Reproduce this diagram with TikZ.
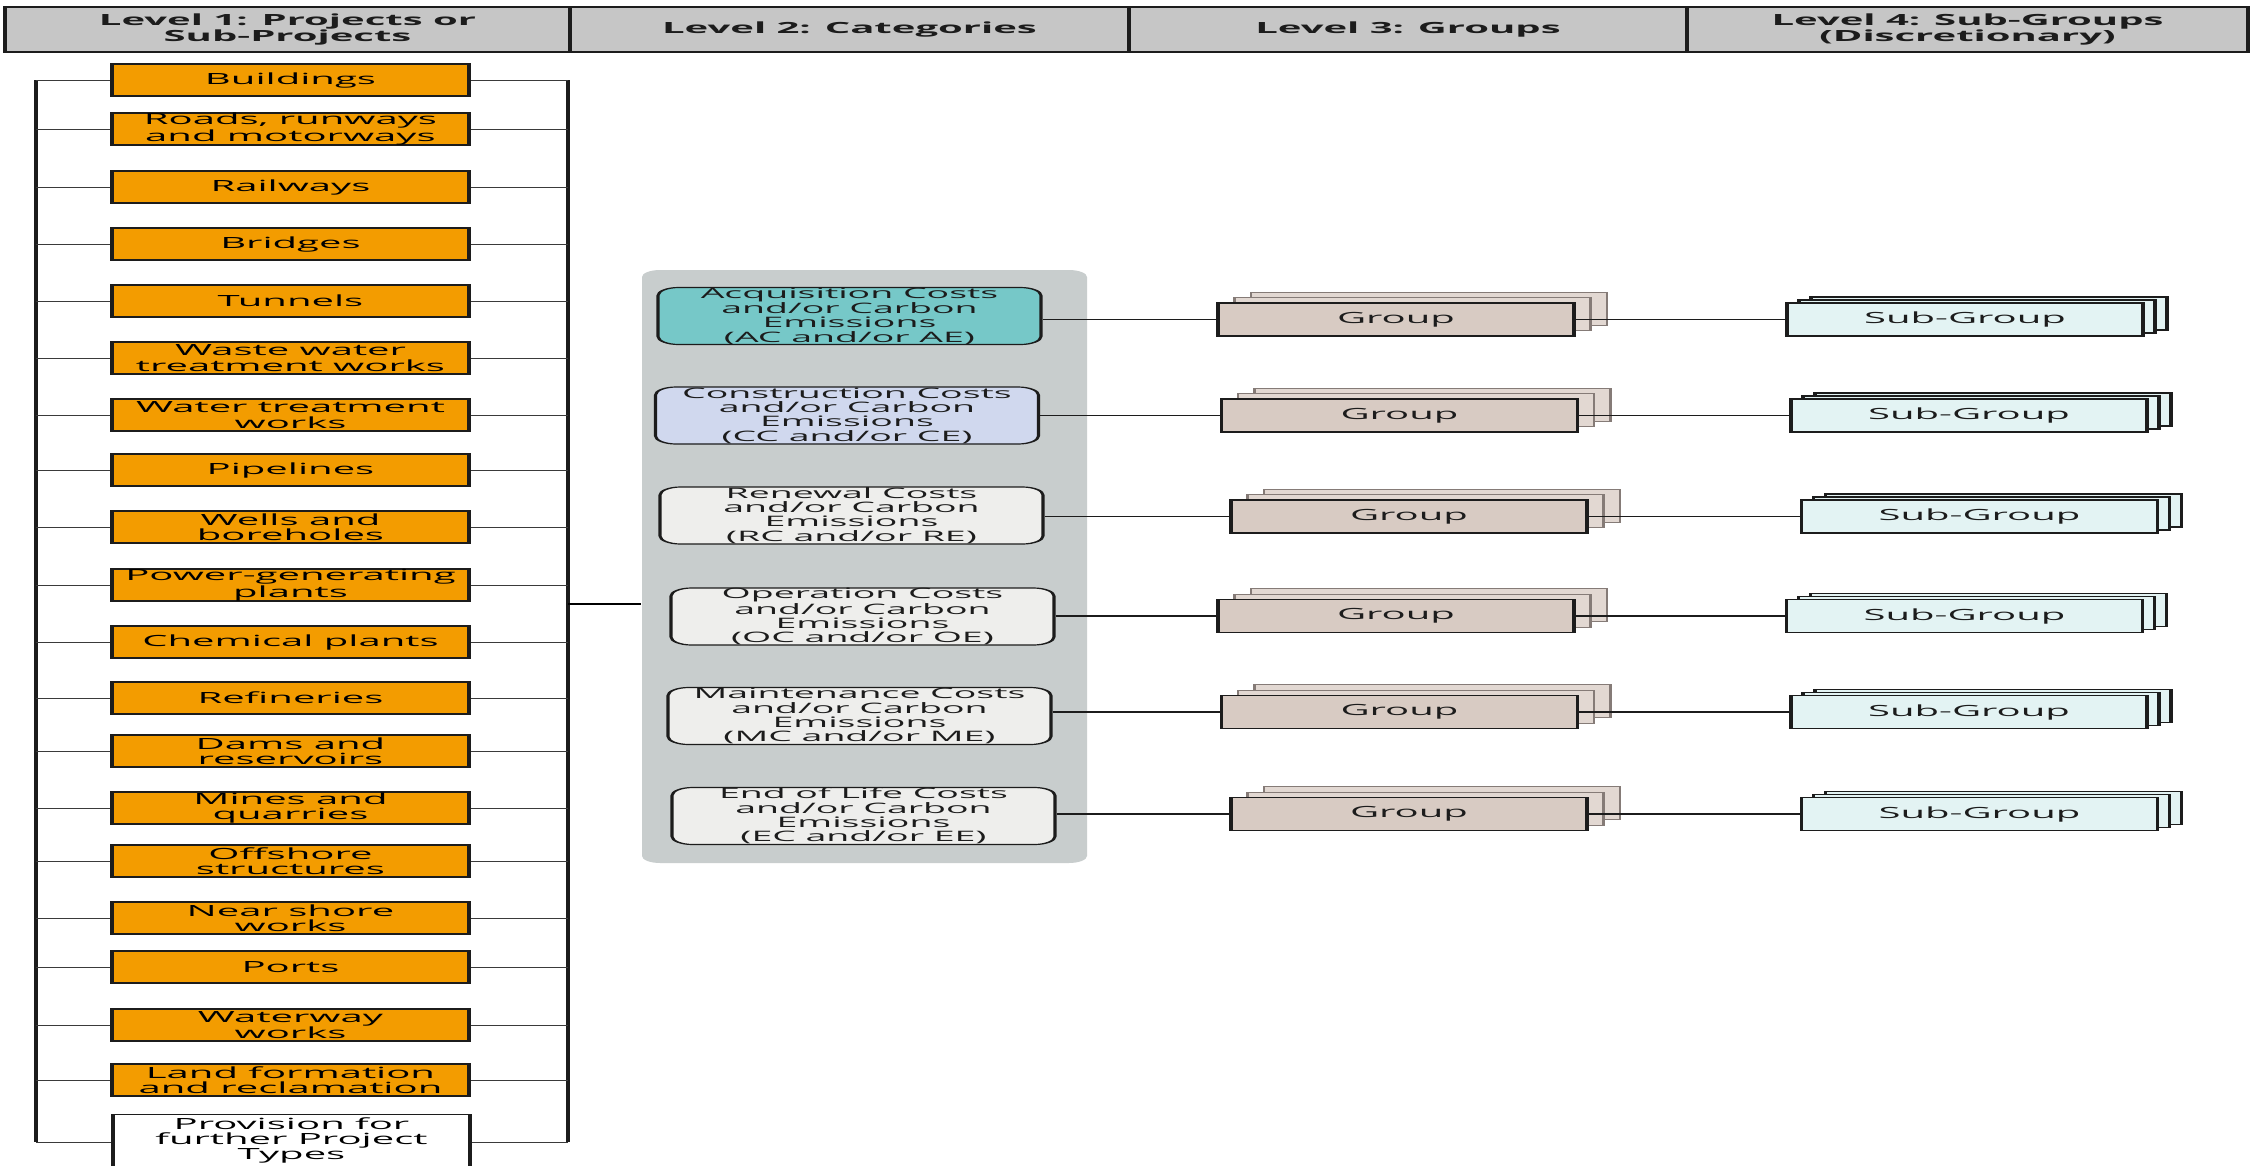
\documentclass[tikz,border=0pt]{standalone}
\usepackage{fontspec}
\setmainfont{Open Sans}
\usetikzlibrary{calc}

\definecolor{hdrgrey}{HTML}{C6C6C6}
\definecolor{projorange}{HTML}{F39C00}
\definecolor{panelgrey}{HTML}{C8CDCD}
\definecolor{acqteal}{HTML}{76C8C8}
\definecolor{conlav}{HTML}{D0D8EE}
\definecolor{catpale}{HTML}{EEEEEC}
\definecolor{grpfill}{HTML}{D8CBC3}
\definecolor{grpshade}{HTML}{E2D8D2}
\definecolor{grpedge}{HTML}{857B77}
\definecolor{subfill}{HTML}{E3F3F3}
\definecolor{inkdark}{HTML}{1C1C1C}
\definecolor{wiregrey}{HTML}{3A3A3A}

\tikzset{
  bodyfont/.style={font=\fontsize{15.4}{15.3}\selectfont},
  hdrcell/.style={draw=inkdark, line width=1.4pt, fill=hdrgrey, minimum height=45pt,
    inner sep=0pt, align=center, text=inkdark, font=\bfseries\fontsize{15.4}{15.3}\selectfont},
  projbox/.style={draw=inkdark, line width=1.2pt, fill=projorange, minimum width=137.31pt,
    minimum height=32pt, inner sep=0pt, align=center, text=black, bodyfont},
  provbox/.style={draw=inkdark, line width=1.2pt, fill=white, minimum width=137.31pt,
    inner xsep=0pt, inner ysep=3pt, anchor=north, align=center, text=black, bodyfont},
  panelbox/.style={fill=panelgrey, draw=none, rounded corners=7pt, minimum width=171.15pt,
    minimum height=593pt, inner sep=0pt},
  catbox/.style={draw=inkdark, line width=1.2pt, rounded corners=8pt, minimum width=147.31pt,
    minimum height=57pt, inner sep=0pt, align=center, text=inkdark,
    font=\fontsize{14.4}{14.3}\selectfont},
  grpbox/.style={draw=inkdark, line width=1.2pt, fill=grpfill, minimum width=136.92pt,
    minimum height=33pt, inner sep=0pt, text=inkdark, bodyfont},
  grplayer/.style={draw=grpedge, line width=1pt, fill=grpshade, minimum width=136.92pt,
    minimum height=33pt, inner sep=0pt},
  subbox/.style={draw=inkdark, line width=1.2pt, fill=subfill, minimum width=136.92pt,
    minimum height=33pt, inner sep=0pt, text=inkdark, bodyfont},
  branch/.style={draw=wiregrey, line width=1pt},
  trunkline/.style={draw=inkdark, line width=1.5pt},
  feeder/.style={draw=black, line width=2.8pt},
  conn/.style={draw=inkdark, line width=1.1pt},
}

\begin{document}
\begin{tikzpicture}
\useasboundingbox (0,0) rectangle (2252pt,-1165pt);
\fill[white] (0,0) rectangle (2252pt,-1165pt);

% everything is laid out on a narrow canvas and widened 2.6 times
\begin{scope}[transform canvas={xscale=2.6}, x=0.384615pt, y=-1pt]

% column headers
\node[hdrcell, minimum width=217.31pt] (h1) at (287.5,29.5) {Level 1: Projects or\\Sub-Projects};
\node[hdrcell, minimum width=215pt]    (h2) at (849.5,29.5) {Level 2: Categories};
\node[hdrcell, minimum width=214.62pt] (h3) at (1408,29.5) {Level 3: Groups};
\node[hdrcell, minimum width=215.77pt] (h4) at (1967.5,29.5) {Level 4: Sub-Groups\\(Discretionary)};

% level 1 bus bars
\coordinate (ltop) at (36,80);
\coordinate (lbot) at (36,1142);
\coordinate (rtop) at (568,80);
\coordinate (rbot) at (568,1142);
\coordinate (trunk) at (568,604);
\draw[trunkline] (ltop) -- (lbot);
\draw[trunkline] (rtop) -- (rbot);

% level 1 project types
\foreach \n/\yy/\t in {
  1/80/Buildings,
  2/129/{Roads, runways\\and motorways},
  3/187/Railways,
  4/244/Bridges,
  5/301/Tunnels,
  6/358/{Waste water\\treatment works},
  7/415/{Water treatment\\works},
  8/470/Pipelines,
  9/527/{Wells and\\boreholes},
  10/585/{Power-generating\\plants},
  11/642/Chemical plants,
  12/698/Refineries,
  13/751/{Dams and\\reservoirs},
  14/808/{Mines and\\quarries},
  15/861/{Offshore\\structures},
  16/918/{Near shore\\works},
  17/967/Ports,
  18/1025/{Waterway\\works},
  19/1080/{Land formation\\and reclamation}}
{
  \node[projbox] (p\n) at (290.5,\yy) {\t};
  \draw[branch] (p\n.west) -- (p\n.west -| ltop);
  \draw[branch] (p\n.east) -- (p\n.east -| rtop);
}
\node[provbox] (p20) at (291.5,1114) {Provision for\\further Project\\Types};
\coordinate (pjoin) at ($(p20.north west)+(0,28)$);
\draw[branch] (lbot) -- (pjoin);
\draw[branch] (p20.east |- pjoin) -- (rbot);

% level 2 categories
\node[panelbox] (panel) at (864.5,566.5) {};
\draw[feeder] (trunk) -- (trunk -| panel.west);

\node[catbox, fill=acqteal] (c1) at (849.5,316)   {Acquisition Costs\\and/or Carbon\\Emissions\\(AC and/or AE)};
\node[catbox, fill=conlav]  (c2) at (847,415.5)   {Construction Costs\\and/or Carbon\\Emissions\\(CC and/or CE)};
\node[catbox, fill=catpale] (c3) at (851.5,515.5) {Renewal Costs\\and/or Carbon\\Emissions\\(RC and/or RE)};
\node[catbox, fill=catpale] (c4) at (862.5,616.5) {Operation Costs\\and/or Carbon\\Emissions\\(OC and/or OE)};
\node[catbox, fill=catpale] (c5) at (859.5,716)   {Maintenance Costs\\and/or Carbon\\Emissions\\(MC and/or ME)};
\node[catbox, fill=catpale] (c6) at (863.5,816)   {End of Life Costs\\and/or Carbon\\Emissions\\(EC and/or EE)};

% level 3 groups and level 4 sub-groups, each a stack of three sheets
\foreach \n/\gx/\sx/\yy in {1/1396/1965/319.5, 2/1399.5/1969/415.5, 3/1409/1979.5/516.5,
                            4/1396/1964.5/616, 5/1399.5/1969/712, 6/1409/1979.5/814}
{
  \node[grplayer] (g\n c) at (\gx+33,\yy-10.6) {};
  \node[grplayer] (g\n b) at (\gx+16.5,\yy-5.3) {};
  \node[grpbox]   (g\n)   at (\gx,\yy) {Group};
  \node[subbox]   (s\n c) at (\sx+24,\yy-6) {};
  \node[subbox]   (s\n b) at (\sx+12,\yy-3) {};
  \node[subbox]   (s\n)   at (\sx,\yy) {Sub-Group};
  \draw[conn] (c\n.east |- g\n.west) -- (g\n.west);
  \draw[conn] (g\n.east) -- (s\n.west);
}
\end{scope}
\end{tikzpicture}
\end{document}
